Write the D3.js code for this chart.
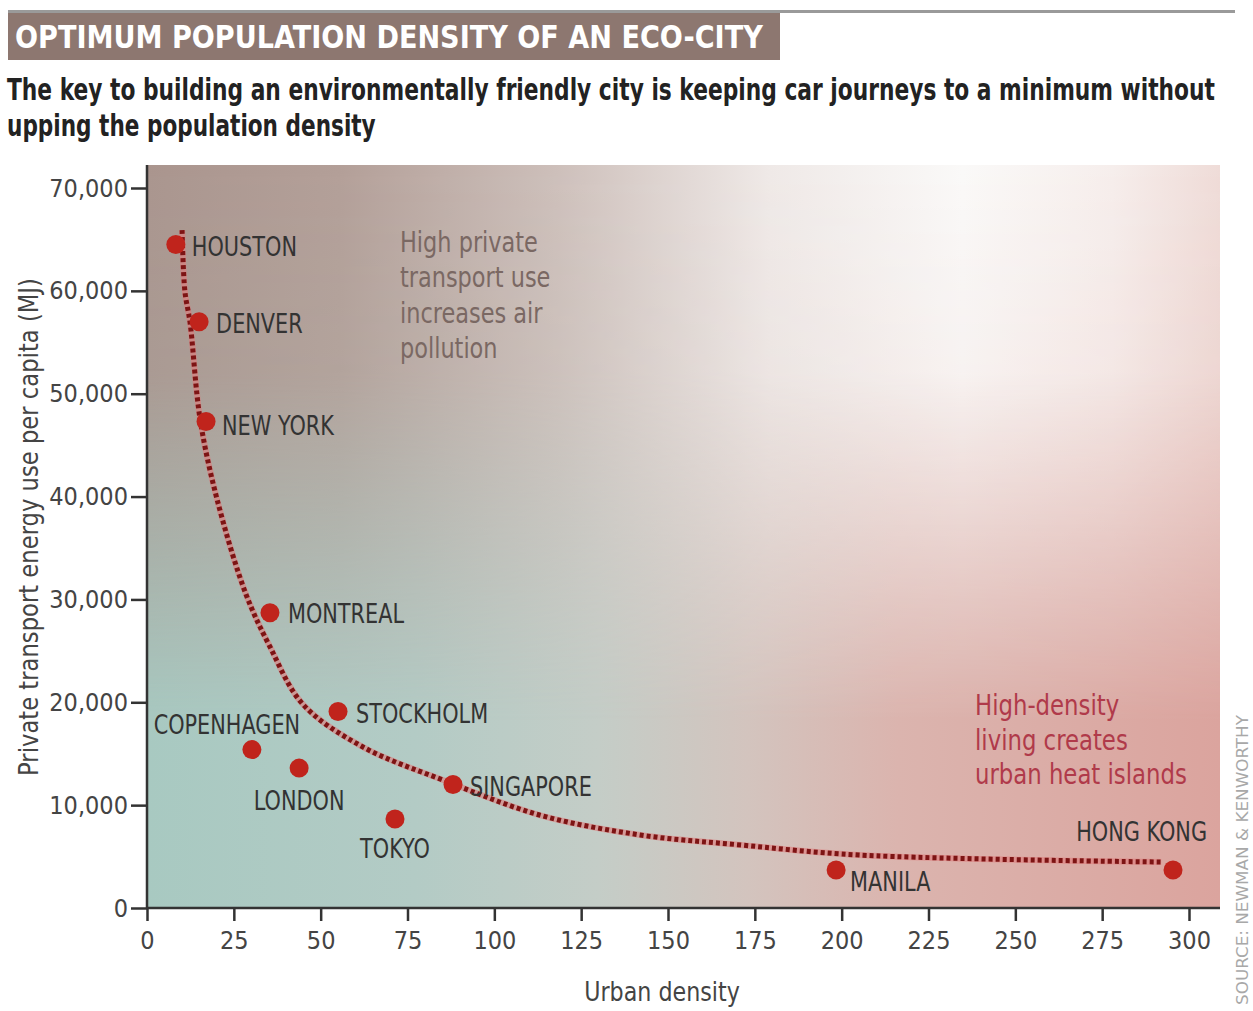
<!DOCTYPE html>
<html>
<head>
<meta charset="utf-8">
<script src="https://cdn.jsdelivr.net/npm/d3@7"></script>
<style>
  body { margin: 0; background: #fff; }
  svg { display: block; }
  text { font-family: "DejaVu Sans Condensed", "Liberation Sans Narrow", sans-serif; }
</style>
</head>
<body>
<div id="chart"></div>
<script>
// city data: urban density vs private transport energy use per capita (MJ)
var cities = ["HOUSTON", "DENVER", "NEW YORK", "MONTREAL", "STOCKHOLM", "COPENHAGEN",
              "LONDON", "TOKYO", "SINGAPORE", "MANILA", "HONG KONG"];
var density = [8.3, 15, 17, 35.4, 55, 30.2, 43.8, 71.4, 88.1, 198.4, 295.4];
var energy = [64500, 57000, 47300, 28700, 19100, 15400, 13600, 8650, 12000, 3700, 3700];

// dotted trend curve
var trendX = [10.1, 10.9, 12.4, 15.3, 20.2, 28.5, 35.4, 44.9, 62.2, 85.2, 113, 142, 171, 205, 292];
var trendY = [65900, 60000, 56900, 47500, 39700, 30500, 25400, 19800, 15650, 12440, 9040, 7100, 6125, 5150, 4470];

var xTicks = [0, 25, 50, 75, 100, 125, 150, 175, 200, 225, 250, 275, 300];
var yTicks = [0, 10000, 20000, 30000, 40000, 50000, 60000, 70000];

var title = "OPTIMUM POPULATION DENSITY OF AN ECO-CITY";
var subtitle = ["The key to building an environmentally friendly city is keeping car journeys to a minimum without",
                "upping the population density"];
var noteTop = ["High private", "transport use", "increases air", "pollution"];
var noteRight = ["High-density", "living creates", "urban heat islands"];

var width = 1253, height = 1011;
var plot = { left: 147, right: 1220, top: 165, bottom: 908 };
var narrow = 0.89;

// label placement relative to each dot
var labelPos = {
    "HOUSTON":    { dx: 16, dy: 2, anchor: "start" },
    "DENVER":     { dx: 17, dy: 2, anchor: "start" },
    "NEW YORK":   { dx: 16, dy: 4, anchor: "start" },
    "MONTREAL":   { dx: 18, dy: 1, anchor: "start" },
    "STOCKHOLM":  { dx: 18, dy: 2, anchor: "start" },
    "COPENHAGEN": { dx: -25, dy: -25, anchor: "middle" },
    "LONDON":     { dx: 0, dy: 33, anchor: "middle" },
    "TOKYO":      { dx: 0, dy: 30, anchor: "middle" },
    "SINGAPORE":  { dx: 17, dy: 2, anchor: "start" },
    "MANILA":     { dx: 14, dy: 12, anchor: "start" },
    "HONG KONG":  { dx: 34, dy: -38, anchor: "end" }
};

var svg = d3.select("#chart").append("svg")
    .attr("width", width)
    .attr("height", height);

var xScale = d3.scaleLinear().domain([0, 300]).range([plot.left, 1189]);
var yScale = d3.scaleLinear().domain([0, 70000]).range([plot.bottom, 188]);

// squeeze a text horizontally so it spans the given width
function fitText(sel, x, y, w) {
    sel.each(function() {
        var n = this.getComputedTextLength();
        d3.select(this).attr("transform", "translate(" + x + "," + y + ") scale(" + (w / n) + ",1)");
    });
}

// background: a top band (brown -> white) blended over a bottom band (teal -> pink)
var defs = svg.append("defs");
function hGrad(id, stops) {
    var g = defs.append("linearGradient").attr("id", id)
        .attr("x1", "0").attr("x2", "1").attr("y1", "0").attr("y2", "0");
    stops.forEach(function(s) { g.append("stop").attr("offset", s[0]).attr("stop-color", s[1]); });
}
hGrad("bottomBand", [["0%", "#a8c9c1"], ["25%", "#b3cbc5"], ["42%", "#c4cdc7"], ["56%", "#d3c4be"],
                     ["70%", "#dbb4ae"], ["100%", "#dba49e"]]);
hGrad("topBand", [["0%", "#aa958e"], ["18%", "#b39f98"], ["38%", "#cdbfba"], ["58%", "#efe9e7"],
                  ["76%", "#faf9f8"], ["90%", "#f6eeec"], ["100%", "#efdcd8"]]);
var fade = defs.append("linearGradient").attr("id", "fade")
    .attr("x1", "0").attr("x2", "0").attr("y1", "0").attr("y2", "1");
[["0%", 1], ["28%", 0.9], ["52%", 0.45], ["75%", 0]]
    .forEach(function(s) { fade.append("stop").attr("offset", s[0]).attr("stop-color", "#fff").attr("stop-opacity", s[1]); });
defs.append("mask").attr("id", "fadeMask")
    .attr("maskUnits", "userSpaceOnUse")
    .append("rect")
    .attr("x", plot.left).attr("y", plot.top)
    .attr("width", plot.right - plot.left).attr("height", plot.bottom - plot.top)
    .attr("fill", "url(#fade)");

svg.append("rect")
    .attr("x", plot.left).attr("y", plot.top)
    .attr("width", plot.right - plot.left).attr("height", plot.bottom - plot.top)
    .attr("fill", "url(#bottomBand)");
svg.append("rect")
    .attr("x", plot.left).attr("y", plot.top)
    .attr("width", plot.right - plot.left).attr("height", plot.bottom - plot.top)
    .attr("fill", "url(#topBand)")
    .attr("mask", "url(#fadeMask)");

// header
svg.append("rect").attr("x", 8).attr("y", 10).attr("width", 1227).attr("height", 3).attr("fill", "#9a9a9a");
svg.append("rect").attr("x", 8).attr("y", 13).attr("width", 772).attr("height", 47).attr("fill", "#8d7770");
svg.append("text")
    .attr("fill", "#fff").attr("font-size", 32).attr("font-weight", "bold")
    .text(title)
    .call(fitText, 15, 48, 748);
svg.selectAll("text.sub").data(subtitle).enter().append("text")
    .attr("class", "sub")
    .attr("fill", "#222").attr("font-size", 30).attr("font-weight", "bold")
    .text(function(d) { return d; })
    .each(function(d, i) {
        d3.select(this).call(fitText, 7, 100 + i * 36, i == 0 ? 1208 : 369);
    });

// axes
var xAxis = d3.axisBottom(xScale).tickValues(xTicks).tickSize(13).tickPadding(10).tickFormat(d3.format("d"));
var yAxis = d3.axisLeft(yScale).tickValues(yTicks).tickSize(16).tickPadding(3).tickFormat(d3.format(","));

var gx = svg.append("g").attr("transform", "translate(0," + plot.bottom + ")").call(xAxis);
var gy = svg.append("g").attr("transform", "translate(" + plot.left + ",0)").call(yAxis);
gx.select(".domain").attr("d", "M" + plot.left + ",0H" + plot.right);
gy.select(".domain").attr("d", "M0," + plot.top + "V" + plot.bottom);
[gx, gy].forEach(function(g) {
    g.selectAll(".domain").attr("stroke", "#333").attr("stroke-width", 2.5);
    g.selectAll(".tick line").attr("stroke", "#333").attr("stroke-width", 2.5);
    g.selectAll(".tick text").attr("fill", "#444").attr("font-size", 25)
        .attr("font-family", "'DejaVu Sans Condensed', 'Liberation Sans Narrow', sans-serif");
});

svg.append("text").attr("transform", "translate(662,1001) scale(0.95,1)").attr("text-anchor", "middle")
    .attr("fill", "#444").attr("font-size", 26).text("Urban density");
svg.append("text").attr("transform", "translate(38,527) rotate(-90) scale(0.97,1)").attr("text-anchor", "middle")
    .attr("fill", "#444").attr("font-size", 26).text("Private transport energy use per capita (MJ)");
svg.append("text").attr("transform", "translate(1248,1005) rotate(-90)").attr("text-anchor", "start")
    .attr("fill", "#a8a8a8").attr("font-size", 15).attr("textLength", 290).attr("lengthAdjust", "spacingAndGlyphs")
    .text("SOURCE: NEWMAN & KENWORTHY");

// annotations
svg.selectAll("text.noteTop").data(noteTop).enter().append("text")
    .attr("class", "noteTop")
    .attr("transform", function(d, i) { return "translate(400," + (252 + i * 35.3) + ") scale(" + narrow + ",1)"; })
    .attr("fill", "#7a6863").attr("font-size", 28)
    .text(function(d) { return d; });
svg.selectAll("text.noteRight").data(noteRight).enter().append("text")
    .attr("class", "noteRight")
    .attr("transform", function(d, i) { return "translate(975," + (715 + i * 34.5) + ") scale(0.905,1)"; })
    .attr("fill", "#b03a4a").attr("font-size", 28)
    .text(function(d) { return d; });

// trend line
var trend = trendX.map(function(x, i) { return [x, trendY[i]]; });
var line = d3.line()
    .x(function(d) { return xScale(d[0]); })
    .y(function(d) { return yScale(d[1]); })
    .curve(d3.curveCatmullRom.alpha(0.5));
svg.append("path").datum(trend).attr("d", line)
    .attr("fill", "none").attr("stroke", "#e07a7a").attr("stroke-width", 6).attr("stroke-opacity", 0.6);
svg.append("path").datum(trend).attr("d", line)
    .attr("fill", "none").attr("stroke", "#7d1414").attr("stroke-width", 5)
    .attr("stroke-dasharray", "4,3");

// points and labels
var pts = cities.map(function(c, i) { return { name: c, x: density[i], y: energy[i] }; });
svg.selectAll("circle.city").data(pts).enter().append("circle")
    .attr("class", "city")
    .attr("cx", function(d) { return xScale(d.x); })
    .attr("cy", function(d) { return yScale(d.y); })
    .attr("r", 9.5)
    .attr("fill", "#c0241c");

svg.selectAll("text.city").data(pts).enter().append("text")
    .attr("class", "city")
    .attr("transform", function(d) {
        var p = labelPos[d.name];
        return "translate(" + (xScale(d.x) + p.dx) + "," + (yScale(d.y) + p.dy) + ") scale(" + narrow + ",1)";
    })
    .attr("dy", "0.36em")
    .attr("text-anchor", function(d) { return labelPos[d.name].anchor; })
    .attr("fill", "#333").attr("font-size", 26)
    .text(function(d) { return d.name; });
</script>
</body>
</html>
